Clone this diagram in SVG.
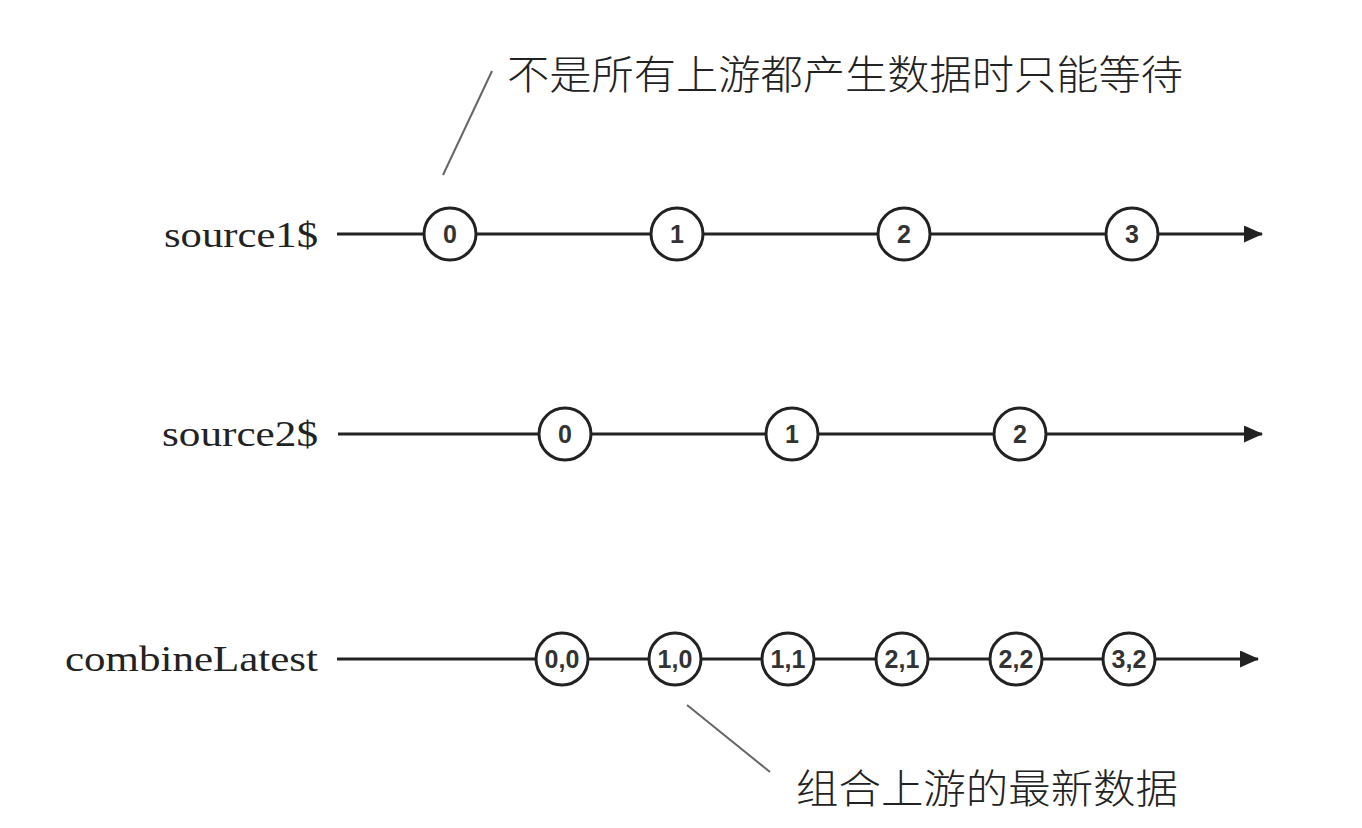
<svg xmlns="http://www.w3.org/2000/svg" width="1362" height="828" viewBox="0 0 1362 828">
<style>
.lbl{font-family:"Liberation Serif","Times New Roman",serif;font-size:36px;fill:#222;text-anchor:end}
.ln{stroke:#222;stroke-width:3;fill:none}
.c{fill:#fff;stroke:#222;stroke-width:3}
.v{font-family:"Liberation Sans",Arial,sans-serif;font-size:25px;font-weight:bold;fill:#333;text-anchor:middle}
.note{font-family:"Noto Sans CJK SC",sans-serif;font-size:40px;font-weight:300;fill:#222}
.lead{stroke:#666;stroke-width:2}
</style>
<defs>
<marker id="ah" markerWidth="19" markerHeight="17" refX="18" refY="8.5" orient="auto" markerUnits="userSpaceOnUse">
<path d="M0,0 L19,8.5 L0,17 Z" fill="#222"/>
</marker>
</defs>
<rect width="1362" height="828" fill="#fff"/>
<g id="labels">
<text class="lbl" x="318" y="247" textLength="154" lengthAdjust="spacingAndGlyphs">source1$</text>
<text class="lbl" x="318" y="446" textLength="156" lengthAdjust="spacingAndGlyphs">source2$</text>
<text class="lbl" x="318" y="671" textLength="253" lengthAdjust="spacingAndGlyphs">combineLatest</text>
</g>
<g id="connectors">
<line class="ln" x1="337" y1="234" x2="1262" y2="234" marker-end="url(#ah)"/>
<line class="ln" x1="338" y1="434" x2="1262" y2="434" marker-end="url(#ah)"/>
<line class="ln" x1="337" y1="659" x2="1258" y2="659" marker-end="url(#ah)"/>
<line class="lead" x1="492" y1="71" x2="443" y2="175"/>
<line class="lead" x1="687" y1="705" x2="770" y2="772"/>
</g>
<g id="s1-0"><circle class="c" cx="450" cy="234" r="26"/><text class="v" x="450" y="243">0</text></g>
<g id="s1-1"><circle class="c" cx="677" cy="234" r="26"/><text class="v" x="677" y="243">1</text></g>
<g id="s1-2"><circle class="c" cx="904" cy="234" r="26"/><text class="v" x="904" y="243">2</text></g>
<g id="s1-3"><circle class="c" cx="1132" cy="234" r="26"/><text class="v" x="1132" y="243">3</text></g>
<g id="s2-0"><circle class="c" cx="565" cy="434" r="26"/><text class="v" x="565" y="443">0</text></g>
<g id="s2-1"><circle class="c" cx="792" cy="434" r="26"/><text class="v" x="792" y="443">1</text></g>
<g id="s2-2"><circle class="c" cx="1020" cy="434" r="26"/><text class="v" x="1020" y="443">2</text></g>
<g id="c-00"><circle class="c" cx="562" cy="659" r="26"/><text class="v" x="562" y="668">0,0</text></g>
<g id="c-10"><circle class="c" cx="675" cy="659" r="26"/><text class="v" x="675" y="668">1,0</text></g>
<g id="c-11"><circle class="c" cx="788" cy="659" r="26"/><text class="v" x="788" y="668">1,1</text></g>
<g id="c-21"><circle class="c" cx="902" cy="659" r="26"/><text class="v" x="902" y="668">2,1</text></g>
<g id="c-22"><circle class="c" cx="1016" cy="659" r="26"/><text class="v" x="1016" y="668">2,2</text></g>
<g id="c-32"><circle class="c" cx="1129" cy="659" r="26"/><text class="v" x="1129" y="668">3,2</text></g>
<g id="note1"><text class="note" x="507" y="89" textLength="676" lengthAdjust="spacingAndGlyphs">不是所有上游都产生数据时只能等待</text></g>
<g id="note2"><text class="note" x="796" y="803" textLength="382" lengthAdjust="spacingAndGlyphs">组合上游的最新数据</text></g>
</svg>
